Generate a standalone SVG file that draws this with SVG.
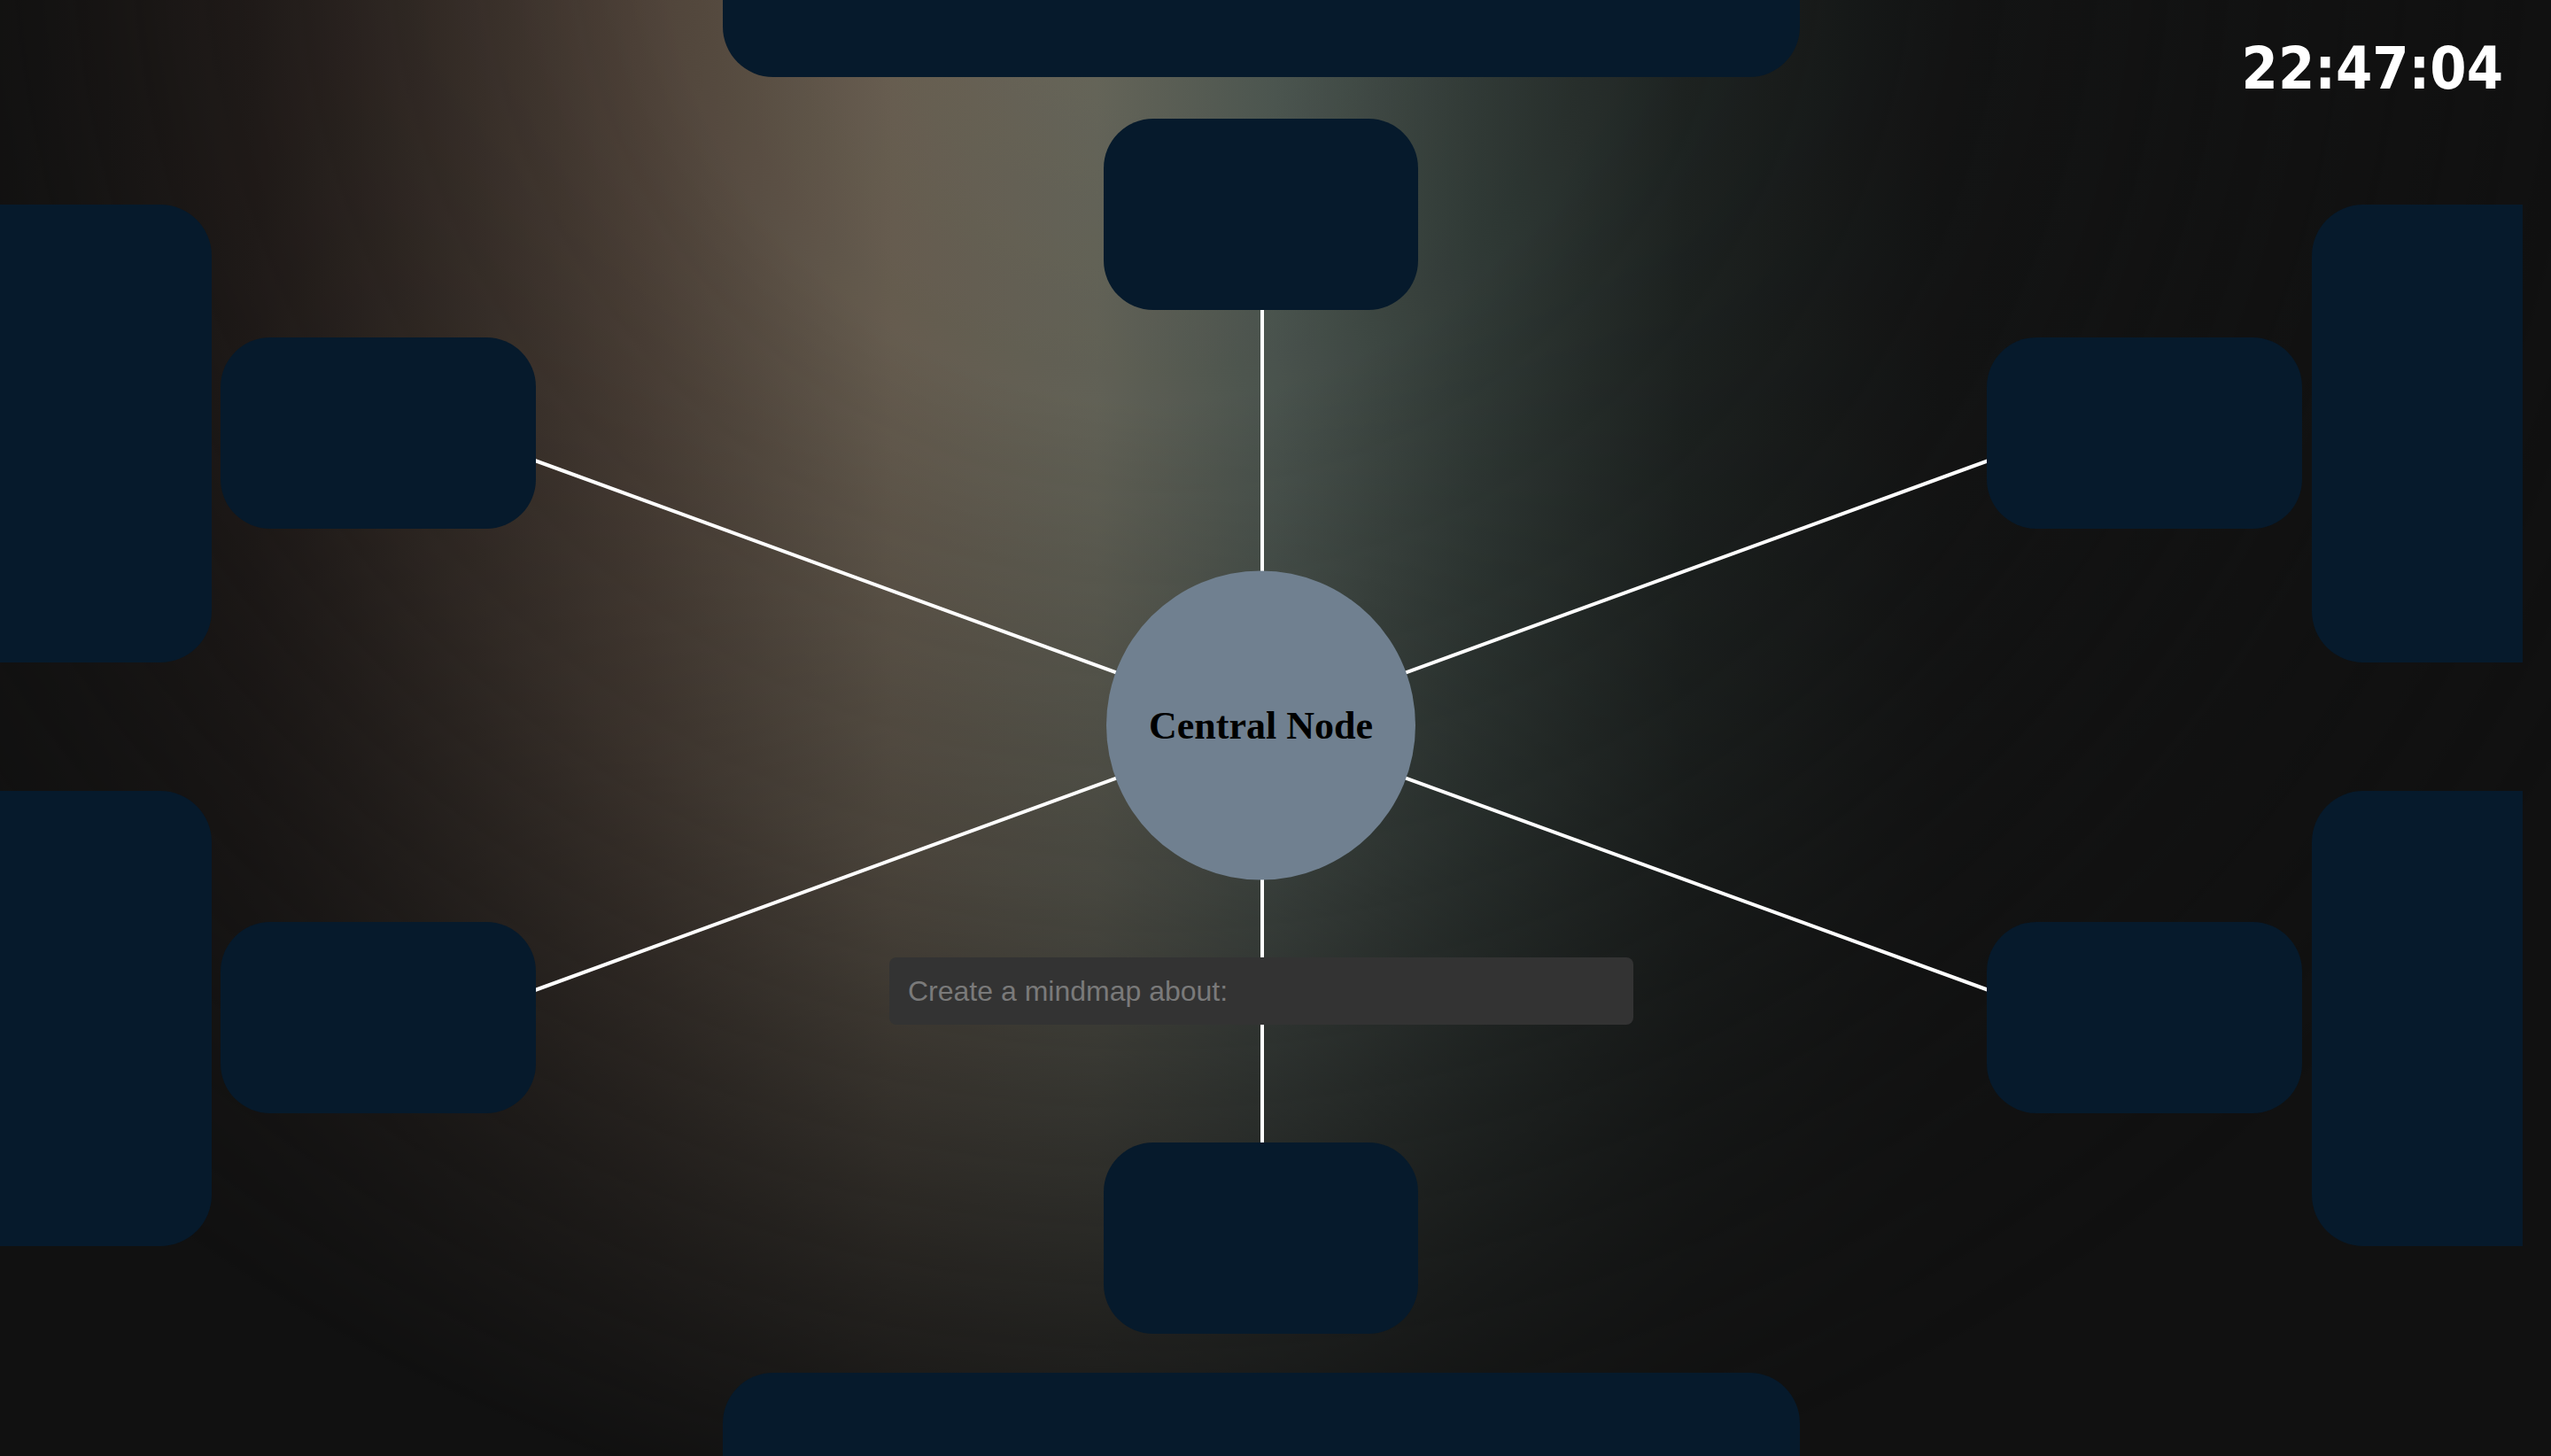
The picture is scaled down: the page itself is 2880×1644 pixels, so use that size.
<svg xmlns="http://www.w3.org/2000/svg" width="2880" height="1644" viewBox="0 0 2880 1644">
  <defs>
    <linearGradient id="hue" x1="0" y1="0" x2="2880" y2="0" gradientUnits="userSpaceOnUse">
      <stop offset="0" stop-color="#141312"/>
      <stop offset="0.1" stop-color="#271f1c"/>
      <stop offset="0.25" stop-color="#52453b"/>
      <stop offset="0.35" stop-color="#6b6153"/>
      <stop offset="0.43" stop-color="#66665a"/>
      <stop offset="0.5" stop-color="#4d5751"/>
      <stop offset="0.58" stop-color="#323c38"/>
      <stop offset="0.66" stop-color="#1f2523"/>
      <stop offset="0.76" stop-color="#141515"/>
      <stop offset="1" stop-color="#111111"/>
    </linearGradient>
    <radialGradient id="fade" cx="1300" cy="-100" r="1850" gradientUnits="userSpaceOnUse">
      <stop offset="0" stop-color="#ffffff"/>
      <stop offset="0.3" stop-color="#f0f0f0"/>
      <stop offset="0.6" stop-color="#a0a0a0"/>
      <stop offset="0.85" stop-color="#383838"/>
      <stop offset="1" stop-color="#000000"/>
    </radialGradient>
    <mask id="fadeMask" maskUnits="userSpaceOnUse" x="0" y="0" width="2880" height="1644">
      <rect x="0" y="0" width="2880" height="1644" fill="url(#fade)"/>
    </mask>
    <style>
      .node { fill: #061a2c; }
      .link { stroke: #ffffff; stroke-width: 4; fill: none; }
      .central { fill: #708090; }
      .central-label { font-family: "Liberation Serif", "Times New Roman", serif; font-weight: bold; font-size: 44px; fill: #000000; }
      .input { fill: #333333; }
      .placeholder { font-family: "Liberation Sans", Arial, sans-serif; font-size: 32px; fill: #7a7a7a; }
      .clock { font-family: "DejaVu Sans Condensed", "DejaVu Sans", sans-serif; font-stretch: condensed; font-weight: bold; font-size: 66px; fill: #ffffff; }
    </style>
  </defs>

  <g id="background">
    <rect x="0" y="0" width="2880" height="1644" fill="#111111"/>
    <rect x="0" y="0" width="2880" height="1644" fill="url(#hue)" mask="url(#fadeMask)"/>
  </g>

  <g id="connectors">
    <line class="link" x1="1425" y1="819" x2="1425" y2="350"/>
    <line class="link" x1="1425" y1="819" x2="1425" y2="1290"/>
    <line class="link" x1="1423.5" y1="819" x2="604" y2="520"/>
    <line class="link" x1="1423.5" y1="819" x2="604" y2="1118"/>
    <line class="link" x1="1423.5" y1="819" x2="2245" y2="520"/>
    <line class="link" x1="1423.5" y1="819" x2="2245" y2="1118"/>
  </g>

  <g id="node-top-banner"><rect class="node" x="816" y="-60" width="1216" height="147" rx="57" ry="57"/></g>
  <g id="node-top"><rect class="node" x="1246" y="134" width="355" height="216" rx="56" ry="56"/></g>
  <g id="node-bottom"><rect class="node" x="1246" y="1290" width="355" height="216" rx="56" ry="56"/></g>
  <g id="node-bottom-banner"><rect class="node" x="816" y="1550" width="1216" height="160" rx="57" ry="57"/></g>
  <g id="node-left-upper"><rect class="node" x="249" y="381" width="356" height="216" rx="56" ry="56"/></g>
  <g id="node-left-lower"><rect class="node" x="249" y="1041" width="356" height="216" rx="56" ry="56"/></g>
  <g id="node-left-big-upper"><rect class="node" x="-80" y="231" width="319" height="517" rx="58" ry="58"/></g>
  <g id="node-left-big-lower"><rect class="node" x="-80" y="893" width="319" height="514" rx="58" ry="58"/></g>
  <g id="node-right-upper"><rect class="node" x="2243" y="381" width="356" height="216" rx="56" ry="56"/></g>
  <g id="node-right-lower"><rect class="node" x="2243" y="1041" width="356" height="216" rx="56" ry="56"/></g>
  <g id="node-right-big-upper"><path class="node" d="M2668 231 H2848 V748 H2668 A58 58 0 0 1 2610 690 V289 A58 58 0 0 1 2668 231 Z"/></g>
  <g id="node-right-big-lower"><path class="node" d="M2668 893 H2848 V1407 H2668 A58 58 0 0 1 2610 1349 V951 A58 58 0 0 1 2668 893 Z"/></g>

  <g id="node-central">
    <circle class="central" cx="1423.5" cy="819" r="174.5"/>
    <text class="central-label" x="1423.5" y="834" text-anchor="middle">Central Node</text>
  </g>

  <g id="input">
    <rect class="input" x="1004" y="1081" width="840" height="76" rx="8" ry="8"/>
    <text class="placeholder" x="1025" y="1130">Create a mindmap about:</text>
  </g>

  <g id="clock">
    <text class="clock" x="2826" y="100" text-anchor="end">22:47:04</text>
  </g>
</svg>
